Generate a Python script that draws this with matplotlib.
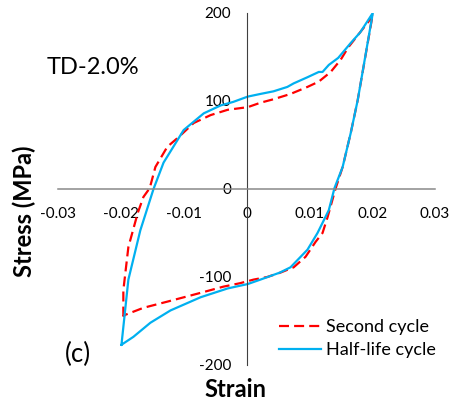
import matplotlib
matplotlib.use("Agg")
import matplotlib.pyplot as plt

plt.rcParams.update({
    "font.family": ["Lato", "DejaVu Sans"], "font.size": 11,
    "axes.spines.top": False, "axes.spines.right": False,
})
RED, BLUE = "#ff0000", "#00b0f0"

# ciclo 2: carga desde el minimo hasta el pico y luego descarga (strain, MPa)
second_strain = [-0.0196, -0.0196, -0.0188, -0.0173, -0.0164, -0.0154, -0.0145,
                 -0.0126, -0.0108, -0.0084, -0.0057, -0.0030, 0.0002, 0.0022,
                 0.0043, 0.0070, 0.0097, 0.0115, 0.0134, 0.0150, 0.0162, 0.0194,
                 0.0201,
                 0.0177, 0.0166, 0.0153, 0.0142, 0.0129, 0.0121, 0.0110, 0.0094,
                 0.0075, 0.0054, 0.0033, 0.0011, -0.0010, -0.0037, -0.0073,
                 -0.0126, -0.0164, -0.0193, -0.0196]
second_stress = [-145, -115, -66, -27, -9, 1, 25,
                 48, 59, 75, 84, 90, 93, 98,
                 102, 108, 116, 122, 133, 147, 161, 190,
                 199,
                 101, 64, 25, 1, -32, -50, -60, -77,
                 -89, -95, -100, -103, -107, -111, -118,
                 -128, -135, -143, -145]

# ciclo de vida media
half_strain = [-0.0199, -0.0188, -0.0169, -0.0148, -0.0132, -0.0100, -0.0068,
               -0.0041, -0.0021, 0.0002, 0.0022, 0.0043, 0.0065, 0.0075,
               0.0097, 0.0115, 0.0121, 0.0131, 0.0146, 0.0166, 0.0181, 0.0201,
               0.0177, 0.0166, 0.0153, 0.0140, 0.0131, 0.0113, 0.0097, 0.0070,
               0.0053, 0.0022, 0.0002, -0.0030, -0.0073, -0.0121, -0.0153,
               -0.0180, -0.0199]
half_stress = [-177, -103, -47, 0, 30, 67, 86,
               95, 99, 105, 108, 111, 116, 120,
               127, 133, 133, 141, 149, 166, 178, 200,
               101, 64, 25, 1, -24, -50, -69, -89,
               -95, -103, -108, -113, -123, -138, -152,
               -168, -177]

x_ticks = [-0.03, -0.02, -0.01, 0, 0.01, 0.02, 0.03]
x_labels = ["-0.03", "-0.02", "-0.01", "0", "0.01", "0.02", "0.03"]
y_ticks = [-200, -100, 0, 100, 200]
y_labels = ["-200", "-100", "0", "100", "200"]

fig = plt.figure(figsize=(4.53, 4.0), dpi=100)
ax = fig.add_axes([58 / 453, 35 / 400, 377 / 453, 352 / 400])

ax.plot(second_strain, second_stress, color=RED, lw=1.6, dashes=(4.5, 2.3),
        label="Second cycle")
ax.plot(half_strain, half_stress, color=BLUE, lw=1.6, label="Half-life cycle")

ax.set_xlim(-0.03, 0.03)
ax.set_ylim(-200, 200)
ax.spines["left"].set_position("zero")
ax.spines["bottom"].set_position("zero")
ax.spines["left"].set_color("#404040")
ax.spines["left"].set_linewidth(0.8)
ax.spines["bottom"].set_color("#898989")
ax.spines["bottom"].set_linewidth(1.1)
ax.set_xticks(x_ticks)
ax.set_xticklabels(x_labels)
ax.set_yticks(y_ticks)
ax.set_yticklabels(y_labels)
ax.tick_params(axis="x", length=0, pad=13, labelsize=11)
ax.tick_params(axis="y", length=0, pad=11, labelsize=11)
for t in ax.get_yticklabels():
    if t.get_text() == "0":
        t.set_bbox(dict(facecolor="white", edgecolor="none", pad=0.5))

ax.legend(loc="upper left", bbox_to_anchor=(279 / 453, 1 - 319 / 400),
          bbox_transform=fig.transFigure, frameon=False, fontsize=13,
          handlelength=2.3, handletextpad=0.3, labelspacing=0.4,
          borderpad=0, borderaxespad=0)

fig.text(47 / 453, 1 - 74 / 400, "TD-2.0%", fontsize=17, ha="left", va="baseline")
fig.text(65 / 453, 1 - 362 / 400, "(c)", fontsize=18.5, ha="left", va="baseline")
fig.text(235 / 453, 1 - 397 / 400, "Strain", fontsize=17, weight="bold",
         ha="center", va="baseline")
fig.text(24 / 453, 1 - 211 / 400, "Stress (MPa)", fontsize=17, weight="bold",
         rotation=90, ha="center", va="center")

fig.savefig("out.png", dpi=100)
plt.close(fig)
